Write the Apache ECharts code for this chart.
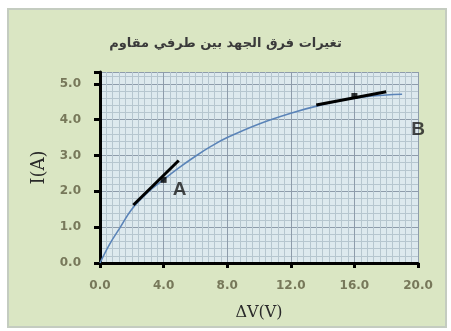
<!DOCTYPE html>
<html><head><meta charset="utf-8">
<script src="https://cdn.jsdelivr.net/npm/echarts@6/dist/echarts.min.js"></script>
<style>html,body{margin:0;padding:0;background:#fff}#c{width:451px;height:331px}</style>
</head><body><div id="c"></div>
<script>
const titleText = 'تغيرات فرق الجهد بين طرفي مقاوم';
const xName = 'ΔV(V)';
const yName = 'I(A)';
const curveV = [0, 0.6, 1.25, 2, 3, 4, 5, 6, 7, 8, 10, 12, 14, 16, 18, 19];
const curveI = [0, 0.52, 0.98, 1.5, 1.97, 2.33, 2.67, 2.98, 3.26, 3.5, 3.88, 4.18, 4.42, 4.6, 4.69, 4.71];
const tangentA = [[2.1, 1.62], [4.95, 2.86]];
const tangentB = [[13.6, 4.41], [18.0, 4.78]];
const pointA = [4.0, 2.32];
const pointB = [16.0, 4.66];
const labelA = { name: 'A', pos: [5.0, 2.05] };
const labelB = { name: 'B', pos: [20.0, 3.72] };

const chart = echarts.init(document.getElementById('c'));
chart.setOption({
  animation: false,
  backgroundColor: '#ffffff',
  graphic: [{
    type: 'rect', z: -10, shape: { x: 8, y: 9, width: 438, height: 318 },
    style: { fill: '#dae6c3', stroke: '#c4ccc0', lineWidth: 2 }
  }],
  title: {
    text: titleText, left: 'center', top: 32,
    textStyle: { fontFamily: 'DejaVu Sans', fontSize: 13, fontWeight: 'bold', color: '#3a3a3a' }
  },
  grid: {
    left: 100, right: 33, top: 72, bottom: 68,
    show: true, backgroundColor: '#dde9ee', borderWidth: 0
  },
  xAxis: {
    type: 'value', min: 0, max: 20, interval: 4,
    name: xName, nameLocation: 'middle', nameGap: 42,
    nameTextStyle: { fontFamily: 'DejaVu Serif', fontSize: 16, color: '#2a2a2a' },
    axisLine: { show: true, onZero: false, lineStyle: { color: '#000', width: 3 } },
    axisTick: { show: true, length: 5, lineStyle: { color: '#000', width: 3 } },
    axisLabel: { formatter: v => v.toFixed(1), color: '#77785a', fontSize: 12, fontWeight: 'bold', margin: 17, fontFamily: 'DejaVu Sans' },
    splitLine: { show: true, lineStyle: { color: '#8e9cab', width: 1 } },
    minorTick: { show: false, splitNumber: 10 },
    minorSplitLine: { show: true, lineStyle: { color: '#b6c6cf', width: 1 } }
  },
  yAxis: {
    type: 'value', min: 0, max: 5.33, interval: 1,
    name: yName, nameLocation: 'middle', nameGap: 52, nameRotate: 90,
    nameTextStyle: { fontFamily: 'DejaVu Serif', fontSize: 18, color: '#2a2a2a' },
    axisLine: { show: true, onZero: false, lineStyle: { color: '#000', width: 3 } },
    axisTick: { show: true, length: 6, lineStyle: { color: '#000', width: 3 } },
    axisLabel: { formatter: v => (Math.abs(v - Math.round(v)) < 1e-6 ? v.toFixed(1) : ''), color: '#77785a', fontSize: 12, fontWeight: 'bold', margin: 19, fontFamily: 'DejaVu Sans' },
    splitLine: { show: true, lineStyle: { color: '#8e9cab', width: 1 } },
    minorTick: { show: false, splitNumber: 5 },
    minorSplitLine: { show: true, lineStyle: { color: '#b6c6cf', width: 1 } }
  },
  series: [
    {
      type: 'line', smooth: 0.4, symbol: 'none',
      data: curveV.map((v, i) => [v, curveI[i]]),
      lineStyle: { color: '#5b84b8', width: 1.6 }, z: 3
    },
    {
      type: 'line', symbol: 'none', data: tangentA,
      lineStyle: { color: '#000', width: 3 }, z: 4
    },
    {
      type: 'line', symbol: 'none', data: tangentB,
      lineStyle: { color: '#000', width: 3 }, z: 4
    },
    {
      type: 'scatter', symbol: 'rect', symbolSize: 6,
      itemStyle: { color: '#000' }, data: [pointA, pointB], z: 5
    },
    {
      type: 'scatter', symbolSize: 0, z: 6,
      data: [
        { name: labelA.name, value: labelA.pos },
        { name: labelB.name, value: labelB.pos }
      ],
      label: {
        show: true, position: 'inside', formatter: p => p.name,
        fontFamily: 'Liberation Sans', fontSize: 19, fontWeight: 'bold', color: '#1a1a1a'
      }
    }
  ]
});
</script></body></html>
